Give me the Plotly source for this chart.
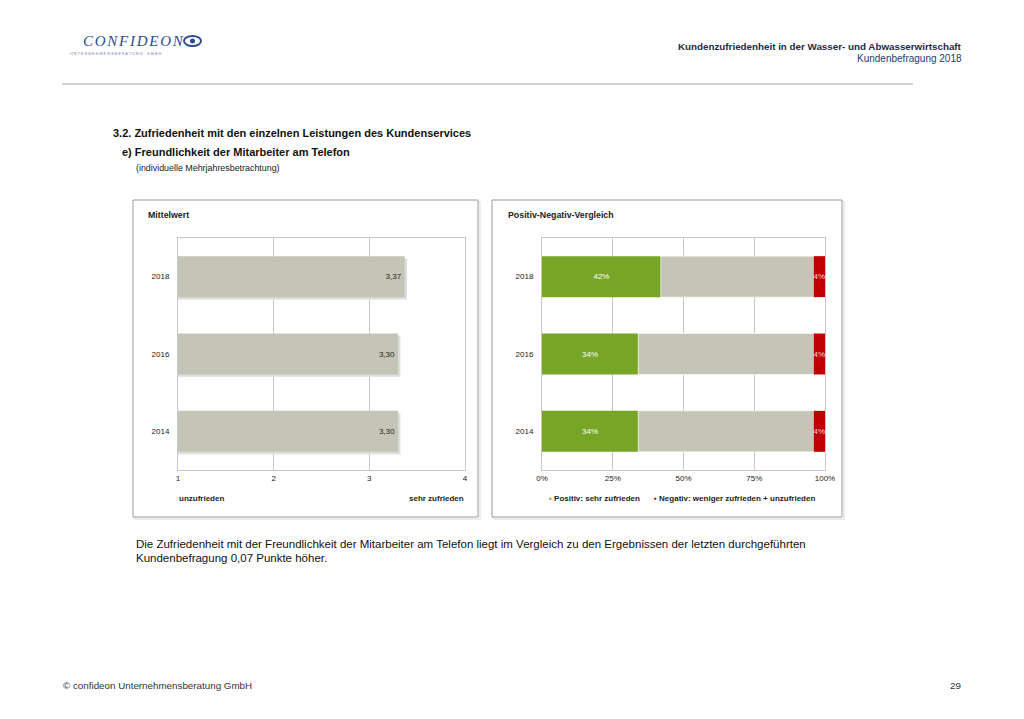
import numpy as np
import plotly.graph_objects as go

# ---------------- data ----------------
years = ["2014", "2016", "2018"]
mean_values = [3.30, 3.30, 3.37]
positive = [34, 34, 42]
neutral = [62, 62, 54]
negative = [4, 4, 4]
mean_ticks = [1, 2, 3, 4]
pct_ticks = [0, 25, 50, 75, 100]
pct_tick_labels = ["0%", "25%", "50%", "75%", "100%"]

W, H = 1024, 719
FONT = "Arial, Liberation Sans, sans-serif"

# page-pixel -> paper coordinates (compensating for page offset in the viewer)
def px(x):
    return (x - 14) / 1008

def py(y):
    return 1 - (y - 8) / H

fig = go.Figure()

# ---------- left chart: Mittelwert ----------
mean_len = [v - 1 for v in mean_values]
fig.add_trace(go.Bar(
    y=years, x=[l + 0.025 for l in mean_len], base=1, orientation="h",
    width=0.53, offset=-0.265 - 0.03,
    marker=dict(color="#DDDDDD", line=dict(width=0)),
    hoverinfo="skip", showlegend=False, xaxis="x", yaxis="y"))
fig.add_trace(go.Bar(
    y=years, x=mean_len, base=1, orientation="h", width=0.53,
    marker=dict(color="#C4C5B6", line=dict(width=0)),
    text=[f"{v:.2f}".replace(".", ",") for v in mean_values],
    textposition="inside", insidetextanchor="end", textangle=0,
    textfont=dict(family=FONT, size=8, color="#222222"),
    showlegend=False, xaxis="x", yaxis="y"))

# ---------- right chart: Positiv-Negativ ----------
pos = np.array(positive)
neu = np.array(neutral)
neg = np.array(negative)
fig.add_trace(go.Bar(
    y=years, x=pos, base=0, orientation="h", width=0.53,
    marker=dict(color="#77A526", line=dict(width=0)),
    text=[f"{v}%" for v in positive], textposition="inside", textangle=0,
    insidetextanchor="middle", constraintext="none",
    textfont=dict(family=FONT, size=8, color="#FFFFFF"),
    name="Positiv: sehr zufrieden", showlegend=False, xaxis="x2", yaxis="y2"))
fig.add_trace(go.Bar(
    y=years, x=neu, base=pos, orientation="h", width=0.53,
    marker=dict(color="#C4C5B6", line=dict(color="#FFFFFF", width=0.6)),
    showlegend=False, hoverinfo="skip", xaxis="x2", yaxis="y2"))
fig.add_trace(go.Bar(
    y=years, x=neg, base=pos + neu, orientation="h", width=0.53,
    marker=dict(color="#C00000", line=dict(width=0)),
    text=[f"{v}%" for v in negative], textposition="inside", textangle=0,
    insidetextanchor="middle", constraintext="none",
    textfont=dict(family=FONT, size=8, color="#F6D8D8"),
    name="Negativ: weniger zufrieden + unzufrieden", showlegend=False,
    xaxis="x2", yaxis="y2"))

axis_common = dict(showline=True, mirror=True, linecolor="#C8C8C8", linewidth=1,
                   zeroline=False, ticks="",
                   tickfont=dict(family=FONT, size=8, color="#222222"),
                   fixedrange=True)

fig.update_layout(
    width=W, height=H, margin=dict(l=0, r=0, t=0, b=0),
    paper_bgcolor="white", plot_bgcolor="white",
    barmode="overlay", showlegend=False,
    font=dict(family=FONT, color="#222222"),
    xaxis=dict(domain=[px(178), px(465)], range=[1, 4], tickvals=mean_ticks,
               showgrid=True, gridcolor="#C8C8C8", gridwidth=1,
               anchor="y", **axis_common),
    yaxis=dict(domain=[py(470), py(238)], type="category", categoryorder="array",
               categoryarray=years, anchor="x", showgrid=False, **axis_common),
    xaxis2=dict(domain=[px(542), px(825)], range=[0, 100], tickvals=pct_ticks,
                ticktext=pct_tick_labels, showgrid=True, gridcolor="#C8C8C8",
                gridwidth=1, anchor="y2", **axis_common),
    yaxis2=dict(domain=[py(470), py(238)], type="category", categoryorder="array",
                categoryarray=years, anchor="x2", showgrid=False, **axis_common),
)
fig.update_yaxes(ticklabelstandoff=6)

shapes = []
# panel boxes with soft shadow
for x0, x1 in [(133, 478), (492, 842)]:
    shapes.append(dict(type="rect", xref="paper", yref="paper",
                       x0=px(x0 + 2), x1=px(x1 + 2), y0=py(519), y1=py(202),
                       line=dict(color="#E6E6E6", width=1.5), layer="below"))
    shapes.append(dict(type="rect", xref="paper", yref="paper",
                       x0=px(x0), x1=px(x1), y0=py(517), y1=py(200),
                       line=dict(color="#9A9A9A", width=1), fillcolor="white",
                       layer="below"))
# header separator
shapes.append(dict(type="line", xref="paper", yref="paper", x0=px(62), x1=px(913),
                   y0=py(84), y1=py(84), line=dict(color="#A6A6A6", width=1)))
# logo eye
shapes.append(dict(type="circle", xref="paper", yref="paper", x0=px(184), x1=px(201),
                   y0=py(46), y1=py(36), line=dict(color="#2E4D8F", width=2)))
shapes.append(dict(type="circle", xref="paper", yref="paper", x0=px(190), x1=px(195),
                   y0=py(43.5), y1=py(38.5), fillcolor="#2E4D8F", line=dict(width=0)))
fig.update_layout(shapes=shapes)

def ann(text, x, y, size, xanchor="left", color="#222222", bold=False):
    t = f"<b>{text}</b>" if bold else text
    fig.add_annotation(text=t, xref="paper", yref="paper", x=px(x), y=py(y),
                       xanchor=xanchor, yanchor="middle", showarrow=False,
                       borderpad=0,
                       font=dict(family=FONT, size=size, color=color))

# logo
fig.add_annotation(text="<i>c\u200ao\u200an\u200af\u200ai\u200ad\u200ae\u200ao\u200an</i>",
                   xref="paper", yref="paper", x=px(82), y=py(39),
                   xanchor="left", yanchor="middle", showarrow=False, borderpad=0,
                   font=dict(family="Liberation Serif, DejaVu Serif, serif", size=21,
                             color="#2E4D8F", variant="small-caps"))
fig.add_annotation(text="U N T E R N E H M E N S B E R A T U N G    G M B H",
                   xref="paper", yref="paper", x=px(69), y=py(54), xanchor="left",
                   yanchor="middle", showarrow=False, borderpad=0,
                   font=dict(family=FONT, size=3.8, color="#6F84B8"))

# header right
ann("Kundenzufriedenheit in der Wasser- und Abwasserwirtschaft", 963, 47, 9.8,
    xanchor="right", color="#1F2A44", bold=True)
ann("Kundenbefragung 2018", 963, 59, 10, xanchor="right", color="#1F3A6E")

# section headings
ann("3.2. Zufriedenheit mit den einzelnen Leistungen des Kundenservices", 112, 133, 11,
    bold=True, color="#111111")
ann("e) Freundlichkeit der Mitarbeiter am Telefon", 121, 152, 11, bold=True, color="#111111")
ann("(individuelle Mehrjahresbetrachtung)", 135, 168, 8.9, color="#222222")

# panel titles
ann("Mittelwert", 147, 215, 8.8, bold=True)
ann("Positiv-Negativ-Vergleich", 507, 215, 8.8, bold=True)

# axis end labels
ann("unzufrieden", 178, 498, 8, bold=True)
ann("sehr zufrieden", 465, 498, 8, xanchor="right", bold=True)

# legend of the right chart
fig.add_annotation(
    text='<span style="color:#77A526">\u25aa</span> <b>Positiv: sehr zufrieden</b>',
    xref="paper", yref="paper", x=px(548), y=py(498), xanchor="left", yanchor="middle",
    showarrow=False, borderpad=0, font=dict(family=FONT, size=8, color="#222222"))
fig.add_annotation(
    text='<span style="color:#C00000">\u25aa</span> <b>Negativ: weniger zufrieden + unzufrieden</b>',
    xref="paper", yref="paper", x=px(653), y=py(498), xanchor="left", yanchor="middle",
    showarrow=False, borderpad=0, font=dict(family=FONT, size=8, color="#222222"))

# body text
ann("Die Zufriedenheit mit der Freundlichkeit der Mitarbeiter am Telefon liegt im Vergleich "
    "zu den Ergebnissen der letzten durchgeführten", 135, 544, 11.5, color="#111111")
ann("Kundenbefragung 0,07 Punkte höher.", 135, 558, 11.5, color="#111111")

# footer
ann("© confideon Unternehmensberatung GmbH", 62, 685, 9.8, color="#333333")
ann("29", 962, 685, 9.8, xanchor="right", color="#333333")

fig.write_html("out.html")
